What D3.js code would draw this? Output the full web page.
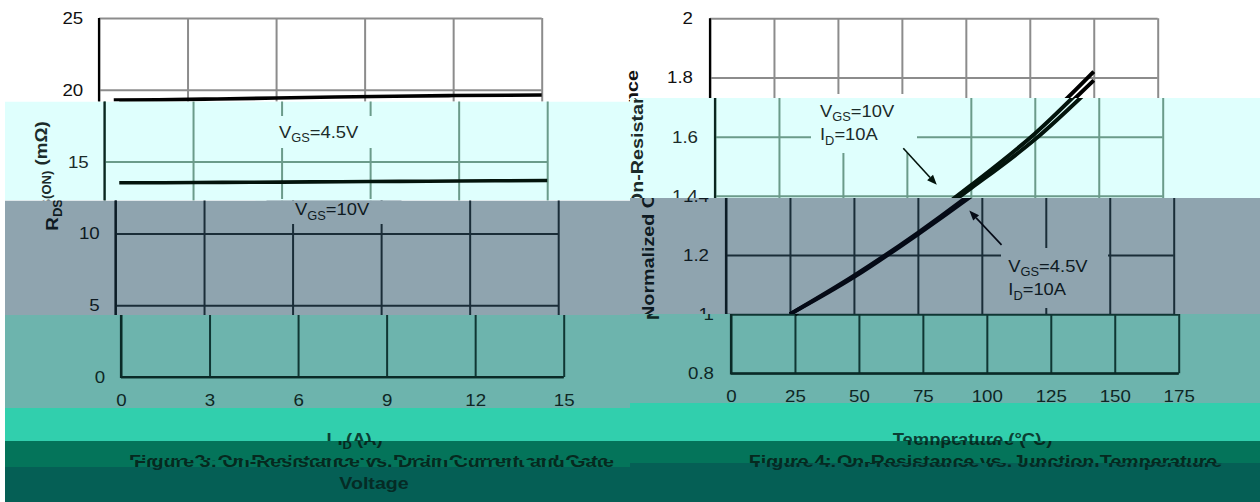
<!DOCTYPE html>
<html>
<head>
<meta charset="utf-8">
<script src="https://cdn.jsdelivr.net/npm/d3@7/dist/d3.min.js"></script>
<style>
  html, body { margin: 0; padding: 0; background: #ffffff; }
  svg { display: block; }
</style>
</head>
<body>
<svg id="fig" width="1260" height="502"></svg>
<script>
// ---- Figure 3: on-resistance vs drain current and gate voltage ----
const drainCurrent = [0.5, 2, 4, 6, 8, 10, 12, 15];
const rdsVgs45 = [19.29, 19.31, 19.36, 19.43, 19.5, 19.55, 19.6, 19.64];
const rdsVgs10 = [13.53, 13.53, 13.55, 13.57, 13.6, 13.62, 13.65, 13.68];
const currentTicks = [0, 3, 6, 9, 12, 15];
const rdsTicks = [0, 5, 10, 15, 20, 25];

// ---- Figure 4: normalized on-resistance vs junction temperature ----
const junctionTemp = [25, 50, 75, 100, 125, 150];
const normVgs10 = [1.0, 1.13, 1.275, 1.435, 1.61, 1.82];
const normVgs45 = [1.0, 1.125, 1.27, 1.425, 1.59, 1.79];
const tempTicks = [0, 25, 50, 75, 100, 125, 150, 175];
const normTicks = [0.8, 1.0, 1.2, 1.4, 1.6, 1.8, 2.0];
const normTickLabels = ["0.8", "1", "1.2", "1.4", "1.6", "1.8", "2"];

// callout arrows in data units: [tail, head]
const arrowVgs10 = [[73.6, 1.561], [86.7, 1.437]];
const arrowVgs45 = [[107.7, 1.234], [95.1, 1.35]];

const FONT = '"Liberation Sans", Arial, Helvetica, sans-serif';
const SX = 1.1;

const svg = d3.select("#fig");
const defs = svg.append("defs");

const xI = d3.scaleLinear().domain([0, 15]).range([99, 541.7]);
const yR = d3.scaleLinear().domain([0, 25]).range([377, 18]);
const xT = d3.scaleLinear().domain([0, 175]).range([710, 1157.7]);
const yN = d3.scaleLinear().domain([0.8, 2]).range([373.3, 18.3]);

// horizontal tinted strips, each with its own sideways offset
const palettes = {
  white: { bg: "#ffffff", grid: "#8c8c8c", axis: "#000000", ink: "#000000", text: "#111111" },
  cyan:  { bg: "#dffffd", grid: "#6b9b8a", axis: "#0b2620", ink: "#03140c", text: "#1b2b2a" },
  slate: { bg: "#8fa4af", grid: "#1a2d38", axis: "#0c1c26", ink: "#050a16", text: "#0e1a22" },
  teal:  { bg: "#6db4ad", grid: "#0f3633", axis: "#0a2a27", ink: "#02120f", text: "#0d2725" },
  mint:  { bg: "#31cfad", grid: "#0b3f34", axis: "#0b3f34", ink: "#0b3f34", text: "#0b3f34" },
  green: { bg: "#04745a", grid: "#06291f", axis: "#06291f", ink: "#06291f", text: "#06291f" },
  deep:  { bg: "#055f55", grid: "#052b25", axis: "#052b25", ink: "#052b25", text: "#052b25" }
};

const bands = [
  { x0: 0,   x1: 630,  y0: 0,     y1: 101.5, dx: 0,    pal: "white" },
  { x0: 5,   x1: 630,  y0: 101.5, y1: 200.5, dx: 5.5,  pal: "cyan" },
  { x0: 5,   x1: 630,  y0: 200.5, y1: 315,   dx: 16.5, pal: "slate" },
  { x0: 5,   x1: 630,  y0: 315,   y1: 408,   dx: 22,   pal: "teal" },
  { x0: 5,   x1: 630,  y0: 408,   y1: 441,   dx: 29,   pal: "mint" },
  { x0: 5,   x1: 630,  y0: 441,   y1: 460,   dx: 40,   pal: "green" },
  { x0: 5,   x1: 630,  y0: 460,   y1: 467,   dx: 45,   pal: "green" },
  { x0: 5,   x1: 630,  y0: 467,   y1: 502,   dx: 45,   pal: "deep" },
  { x0: 630, x1: 1260, y0: 0,     y1: 98,    dx: 0,    pal: "white" },
  { x0: 630, x1: 1260, y0: 98,    y1: 198,   dx: 5,    pal: "cyan" },
  { x0: 630, x1: 1260, y0: 198,   y1: 314,   dx: 16,   pal: "slate" },
  { x0: 630, x1: 1260, y0: 314,   y1: 403,   dx: 21,   pal: "teal" },
  { x0: 630, x1: 1260, y0: 403,   y1: 441,   dx: 29,   pal: "mint" },
  { x0: 630, x1: 1260, y0: 441,   y1: 463,   dx: 40,   pal: "green" },
  { x0: 630, x1: 1260, y0: 463,   y1: 502,   dx: 45,   pal: "deep" }
];

// plain boxes behind the callout texts: x, y, w, h
const calloutBoxes = [[250, 116, 130, 32], [250, 199, 135, 25], [806, 94, 106, 59], [985, 248, 107, 60]];

function rich(g, x, y, parts, o) {
  const t = g.append("text")
    .attr("transform", `translate(${x},${y}) rotate(${o.rot || 0}) scale(${o.sx || SX},1)`)
    .attr("text-anchor", o.anchor || "start")
    .attr("fill", o.fill)
    .style("font-family", FONT)
    .style("font-size", o.size + "px")
    .style("font-weight", o.bold ? "bold" : "normal");
  let shift = 0;
  parts.forEach(part => {
    const sub = typeof part === "object";
    const s = t.append("tspan").text(sub ? part.sub : part);
    const target = sub ? o.size * 0.27 : 0;
    if (target !== shift) s.attr("dy", target - shift);
    shift = target;
    if (sub) s.style("font-size", (o.size * 0.7) + "px");
  });
}

function gridAxes(g, p, x, y, xt, yt, yfmt, pad) {
  const [xa, xb] = x.range();
  const [ya, yb] = y.range();
  const ay = g.append("g").attr("transform", `translate(${xa},0)`)
    .call(d3.axisLeft(y).tickValues(yt).tickFormat(yfmt).tickSize(-(xb - xa)).tickPadding(pad));
  const ax = g.append("g").attr("transform", `translate(0,${ya})`)
    .call(d3.axisBottom(x).tickValues(xt).tickFormat(d3.format("d")).tickSize(-(ya - yb)).tickPadding(16.5));
  [ay, ax].forEach(a => {
    a.select(".domain").remove();
    a.attr("font-family", null).attr("font-size", null);
    a.selectAll("line").attr("stroke", p.grid).attr("stroke-width", 2);
    a.selectAll("text").attr("fill", p.text)
      .style("font-family", FONT).style("font-size", "17px")
      .attr("transform", `scale(${SX},1)`);
  });
}

function axisLines(g, p, x, y) {
  const [xa, xb] = x.range();
  const [ya, yb] = y.range();
  g.append("path").attr("d", `M${xa},${yb}V${ya}H${xb}`)
    .attr("fill", "none").attr("stroke", p.axis).attr("stroke-width", 2.2);
}

function arrow(g, p, pts) {
  const [x1, y1] = [xT(pts[0][0]), yN(pts[0][1])];
  const [x2, y2] = [xT(pts[1][0]), yN(pts[1][1])];
  const a = Math.atan2(y2 - y1, x2 - x1);
  const L = 10, Wd = 4;
  const bx = x2 - L * Math.cos(a), by = y2 - L * Math.sin(a);
  g.append("line").attr("x1", x1).attr("y1", y1).attr("x2", bx).attr("y2", by)
    .attr("stroke", p.ink).attr("stroke-width", 1.6);
  g.append("path")
    .attr("d", `M${x2},${y2}L${bx + Wd * Math.sin(a)},${by - Wd * Math.cos(a)}L${bx - Wd * Math.sin(a)},${by + Wd * Math.cos(a)}Z`)
    .attr("fill", p.ink);
}

function drawScene(g, p) {
  gridAxes(g, p, xI, yR, currentTicks, rdsTicks, d => d, 14.3);
  gridAxes(g, p, xT, yN, tempTicks, normTicks, d => normTickLabels[normTicks.indexOf(d)], 15.5);

  calloutBoxes.forEach(b => g.append("rect")
    .attr("x", b[0]).attr("y", b[1]).attr("width", b[2]).attr("height", b[3]).attr("fill", p.bg));

  axisLines(g, p, xI, yR);
  axisLines(g, p, xT, yN);

  const lineI = d3.line().x(d => xI(d[0])).y(d => yR(d[1])).curve(d3.curveMonotoneX);
  [rdsVgs45, rdsVgs10].forEach(s => g.append("path")
    .attr("d", lineI(drainCurrent.map((v, i) => [v, s[i]])))
    .attr("fill", "none").attr("stroke", p.ink).attr("stroke-width", 3.6));

  const lineT = d3.line().x(d => xT(d[0])).y(d => yN(d[1])).curve(d3.curveMonotoneX);
  [normVgs45, normVgs10].forEach(s => g.append("path")
    .attr("d", lineT(junctionTemp.map((v, i) => [v, s[i]])))
    .attr("fill", "none").attr("stroke", p.ink).attr("stroke-width", 4));

  // callouts
  const lab = { size: 17, sx: 1.08, fill: p.text };
  rich(g, 273.5, 137.5, ["V", { sub: "GS" }, "=4.5V"], lab);
  rich(g, 278.5, 215, ["V", { sub: "GS" }, "=10V"], lab);
  rich(g, 815, 116.7, ["V", { sub: "GS" }, "=10V"], lab);
  rich(g, 815, 140, ["I", { sub: "D" }, "=10A"], lab);
  rich(g, 992.3, 271.7, ["V", { sub: "GS" }, "=4.5V"], lab);
  rich(g, 992.3, 295, ["I", { sub: "D" }, "=10A"], lab);
  arrow(g, p, arrowVgs10);
  arrow(g, p, arrowVgs45);

  // axis titles
  const ttl = { size: 17, bold: true, anchor: "middle", rot: -90, fill: p.text };
  rich(g, 41, 176, ["R", { sub: "DS(ON)" }, " (mΩ)"], ttl);
  rich(g, 638, 195, ["Normalized On-Resistance"], Object.assign({}, ttl, { sx: 1.16 }));

  const cap = { size: 16.5, bold: true, anchor: "middle", sx: 1.12, fill: p.text };
  rich(g, 320, 445, ["I", { sub: "D" }, " (A)"], cap);
  rich(g, 938, 445, ["Temperature (°C)"], cap);

  const fig = Object.assign({}, cap, { sx: 1.19 });
  rich(g, 329, 467, ["Figure 3: On-Resistance vs. Drain Current and Gate"], fig);
  rich(g, 329, 489, ["Voltage"], fig);
  rich(g, 943, 467, ["Figure 4: On-Resistance vs. Junction Temperature"], fig);
}

bands.forEach((b, i) => {
  const id = "strip" + i;
  defs.append("clipPath").attr("id", id).append("rect")
    .attr("x", b.x0).attr("y", b.y0).attr("width", b.x1 - b.x0).attr("height", b.y1 - b.y0);
  const p = palettes[b.pal];
  const outer = svg.append("g").attr("clip-path", `url(#${id})`);
  outer.append("rect").attr("x", b.x0).attr("y", b.y0)
    .attr("width", b.x1 - b.x0).attr("height", b.y1 - b.y0).attr("fill", p.bg);
  drawScene(outer.append("g").attr("transform", `translate(${b.dx},0)`), p);
});
</script>
</body>
</html>
